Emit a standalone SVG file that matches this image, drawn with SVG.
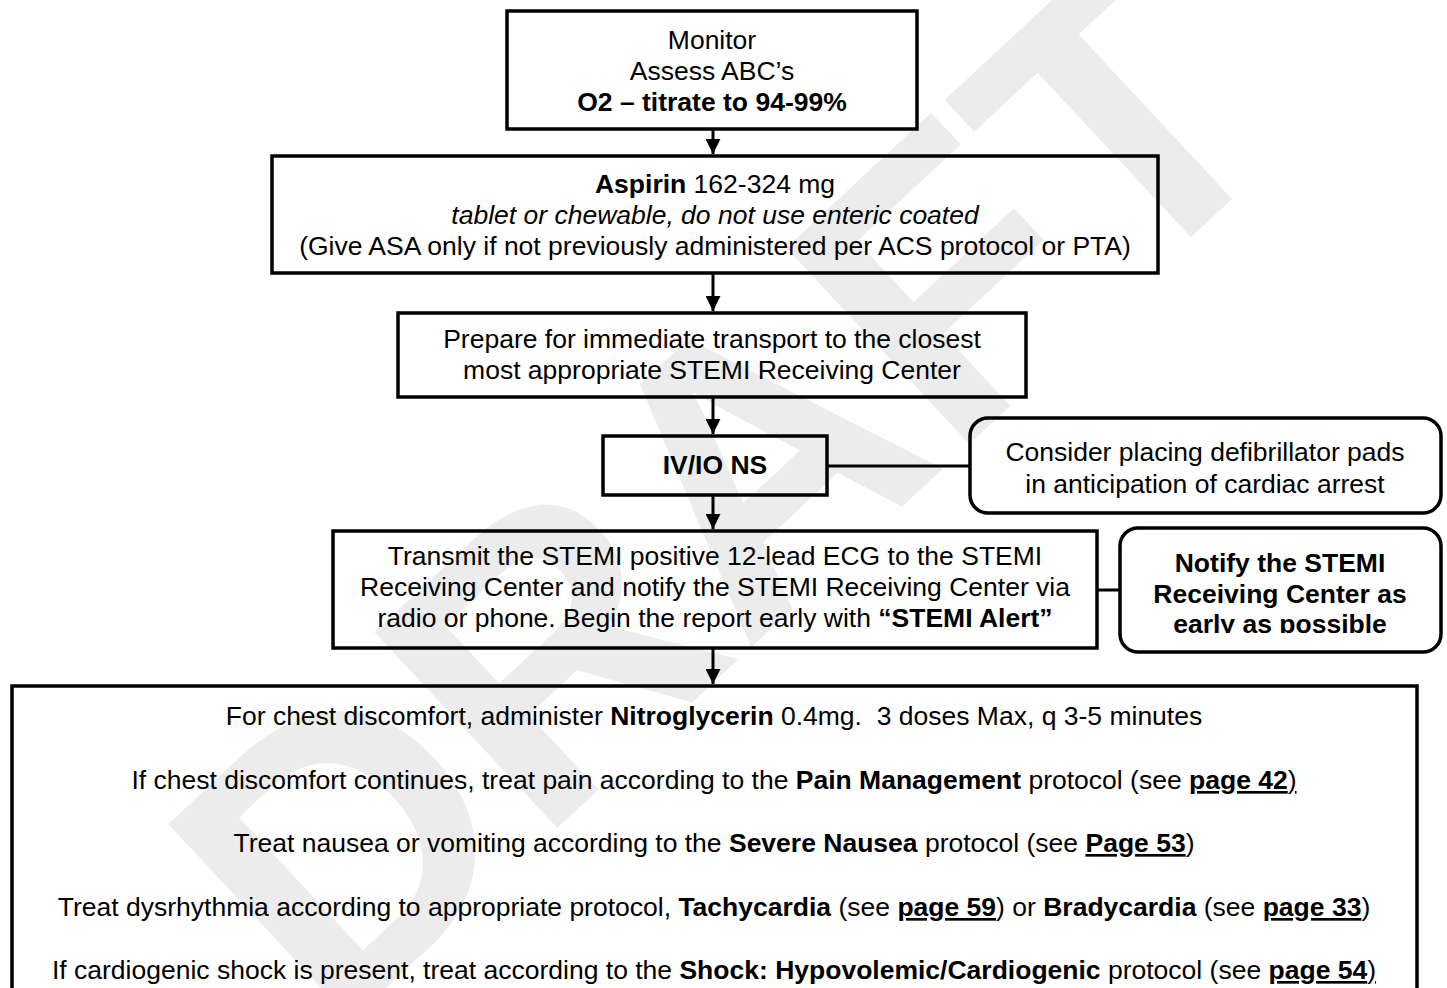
<svg xmlns="http://www.w3.org/2000/svg" width="1447" height="988" viewBox="0 0 1447 988">
<style>
.box{fill:none;stroke:#000;stroke-width:3.5}
.t{font-family:"Liberation Sans",Arial,sans-serif;font-size:26.5px;fill:#000;text-anchor:middle}
.b{font-weight:bold}
.i{font-style:italic}
.u{text-decoration:underline}
.wm{font-family:"Liberation Sans",Arial,sans-serif;font-weight:bold;font-size:390px;fill:#ececec;text-anchor:middle}
.con{stroke:#000;stroke-width:3;fill:none}
</style>
<defs>
<marker id="ah" viewBox="0 0 10 10" refX="10" refY="5" markerWidth="5" markerHeight="5" orient="auto" markerUnits="strokeWidth">
<path d="M0,0 L10,5 L0,10 z" fill="#000"/>
</marker>
<clipPath id="clipNotify"><rect x="1120" y="528" width="322" height="105"/></clipPath>
</defs>
<rect width="1447" height="988" fill="#fff"/>
<g id="watermark">
<text class="wm" transform="translate(720,485) rotate(-43)" y="140">DRAFT</text>
</g>
<g id="connectors">
<line class="con" x1="713" y1="130" x2="713" y2="154" marker-end="url(#ah)"/>
<line class="con" x1="713" y1="273" x2="713" y2="311" marker-end="url(#ah)"/>
<line class="con" x1="713" y1="397" x2="713" y2="434" marker-end="url(#ah)"/>
<line class="con" x1="713" y1="495" x2="713" y2="529" marker-end="url(#ah)"/>
<line class="con" x1="713" y1="648" x2="713" y2="684" marker-end="url(#ah)"/>
<line class="con" x1="827" y1="466" x2="970" y2="466"/>
<line class="con" x1="1097" y1="590" x2="1120" y2="590"/>
</g>
<g id="n1">
<rect class="box" x="507" y="11" width="410" height="118"/>
<text class="t" x="712" y="49">Monitor</text>
<text class="t" x="712" y="80">Assess ABC’s</text>
<text class="t b" x="712" y="111">O2 – titrate to 94-99%</text>
</g>
<g id="n2">
<rect class="box" x="272" y="156" width="886" height="117"/>
<text class="t" x="715" y="193"><tspan class="b">Aspirin</tspan> 162-324 mg</text>
<text class="t i" x="715" y="224">tablet or chewable, do not use enteric coated</text>
<text class="t" x="715" y="255">(Give ASA only if not previously administered per ACS protocol or PTA)</text>
</g>
<g id="n3">
<rect class="box" x="398" y="313" width="628" height="84"/>
<text class="t" x="712" y="348">Prepare for immediate transport to the closest</text>
<text class="t" x="712" y="379">most appropriate STEMI Receiving Center</text>
</g>
<g id="n4">
<rect class="box" x="603" y="436" width="224" height="59"/>
<text class="t b" x="715" y="474">IV/IO NS</text>
</g>
<g id="n5">
<rect class="box" x="970" y="418" width="471" height="95" rx="18"/>
<text class="t" x="1205" y="461">Consider placing defibrillator pads</text>
<text class="t" x="1205" y="493">in anticipation of cardiac arrest</text>
</g>
<g id="n6">
<rect class="box" x="333" y="531" width="764" height="117"/>
<text class="t" x="715" y="565">Transmit the STEMI positive 12-lead ECG to the STEMI</text>
<text class="t" x="715" y="596">Receiving Center and notify the STEMI Receiving Center via</text>
<text class="t" x="715" y="627">radio or phone. Begin the report early with <tspan class="b">“STEMI Alert”</tspan></text>
</g>
<g id="n7">
<rect class="box" x="1120" y="528" width="321" height="124" rx="18"/>
<g clip-path="url(#clipNotify)">
<text class="t b" x="1280" y="572">Notify the STEMI</text>
<text class="t b" x="1280" y="603">Receiving Center as</text>
<text class="t b" x="1280" y="633">early as possible</text>
</g>
</g>
<g id="n8">
<rect class="box" x="12" y="686" width="1405" height="320"/>
<text class="t" x="714" y="725" xml:space="preserve">For chest discomfort, administer <tspan class="b">Nitroglycerin</tspan> 0.4mg.  3 doses Max, q 3-5 minutes</text>
<text class="t" x="714" y="789" xml:space="preserve">If chest discomfort continues, treat pain according to the <tspan class="b">Pain Management</tspan> protocol (see <tspan class="b u">page 42</tspan><tspan class="u">)</tspan></text>
<text class="t" x="714" y="852" xml:space="preserve">Treat nausea or vomiting according to the <tspan class="b">Severe Nausea</tspan> protocol (see <tspan class="b u">Page 53</tspan>)</text>
<text class="t" x="714" y="916" xml:space="preserve">Treat dysrhythmia according to appropriate protocol, <tspan class="b">Tachycardia</tspan> (see <tspan class="b u">page 59</tspan>) or <tspan class="b">Bradycardia</tspan> (see <tspan class="b u">page 33</tspan>)</text>
<text class="t" x="714" y="979" xml:space="preserve">If cardiogenic shock is present, treat according to the <tspan class="b">Shock: Hypovolemic/Cardiogenic</tspan> protocol (see <tspan class="b u">page 54</tspan><tspan class="u">)</tspan></text>
</g>
</svg>
